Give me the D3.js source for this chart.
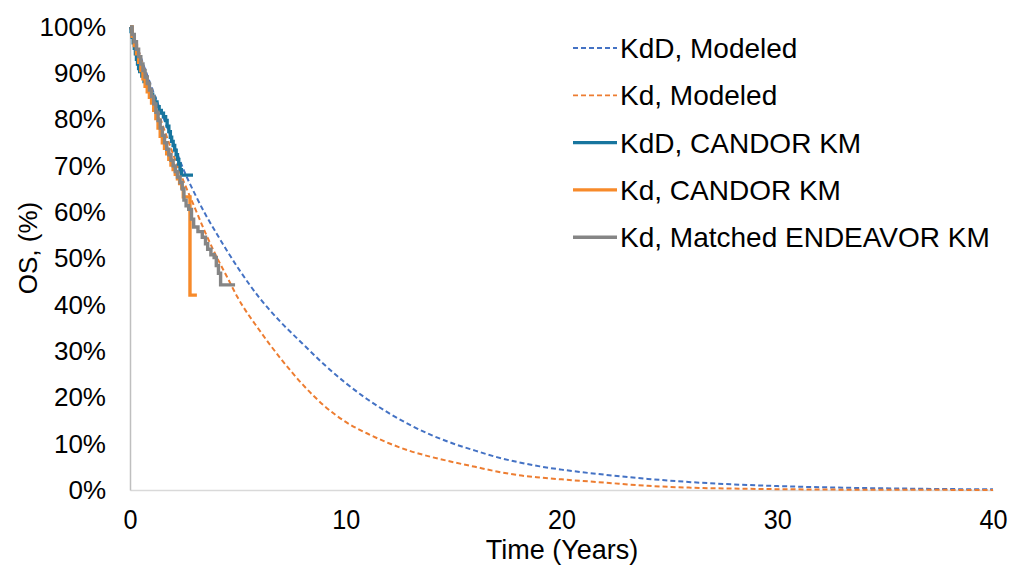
<!DOCTYPE html>
<html>
<head>
<meta charset="utf-8">
<script src="https://cdn.jsdelivr.net/npm/d3@7"></script>
<style>
  html, body { margin: 0; padding: 0; background: #fff; }
  svg { display: block; }
  text { font-family: "Liberation Sans", Arial, sans-serif; fill: #000; }
</style>
</head>
<body>
<svg id="chart" width="1011" height="565"></svg>
<script>
// ---------- DATA ----------
const xTicks = [0, 10, 20, 30, 40];
const yTicks = [0, 10, 20, 30, 40, 50, 60, 70, 80, 90, 100];

const seriesNames = ["KdD, Modeled", "Kd, Modeled", "KdD, CANDOR KM", "Kd, CANDOR KM", "Kd, Matched ENDEAVOR KM"];

// Modeled curves (time in years, OS %)
const kddModelTime = [0, 0.5, 1, 1.5, 2, 2.5, 3, 3.5, 4, 5, 6, 7, 8, 9, 10, 11, 12, 13, 14, 15, 16, 17, 18, 19, 20, 22, 24, 26, 28, 30, 32, 34, 36, 38, 40];
const kddModelOS   = [100, 93.5, 87, 81, 75, 69, 64, 59.5, 55.5, 48, 41.5, 36.2, 31.6, 27.1, 23.1, 19.6, 16.6, 14.0, 11.8, 10.0, 8.5, 7.1, 6.0, 5.1, 4.4, 3.3, 2.4, 1.7, 1.2, 0.85, 0.6, 0.42, 0.3, 0.2, 0.14];

const kdModelTime = [0, 0.5, 1, 1.5, 2, 2.5, 3, 3.5, 4, 4.5, 5, 6, 7, 8, 9, 10, 11, 12, 13, 14, 15, 16, 17, 18, 19, 20, 22, 24, 26, 28, 30, 32, 35, 40];
const kdModelOS   = [100, 93, 86, 79, 72.5, 66.5, 61, 55.5, 50.5, 46, 41.5, 34.5, 28.3, 22.8, 18.2, 14.7, 12.2, 10.1, 8.4, 7.1, 6.0, 5.0, 4.0, 3.2, 2.7, 2.3, 1.6, 0.9, 0.5, 0.3, 0.18, 0.1, 0.05, 0.02];

// Kaplan-Meier step curves
const kddKMTime = [0, 0.05, 0.1, 0.15, 0.2, 0.25, 0.3, 0.35, 0.4, 0.45, 0.55, 0.65, 0.75, 0.85, 0.95, 1.05, 1.15, 1.25, 1.35, 1.45, 1.55, 1.65, 1.72, 1.8, 1.87, 1.93, 2.0, 2.07, 2.14, 2.2, 2.26, 2.32, 2.38, 2.92];
const kddKMOS   = [100, 99, 97.8, 96.6, 95.4, 94.2, 93, 92, 91, 90.4, 89.4, 88.2, 87.2, 86.3, 85.5, 84.6, 83.8, 82.8, 82, 81.4, 80.6, 79.8, 78.6, 77.4, 76.2, 75.3, 74.4, 73.4, 72.4, 71.4, 70.4, 69.2, 68, 68];

const kdKMTime = [0, 0.1, 0.2, 0.3, 0.4, 0.5, 0.6, 0.7, 0.8, 0.9, 1.0, 1.1, 1.2, 1.3, 1.4, 1.5, 1.6, 1.7, 1.8, 1.9, 2.0, 2.1, 2.2, 2.3, 2.4, 2.47, 2.78, 3.1];
const kdKMOS   = [100, 98, 96, 94.2, 92.4, 90.6, 88.8, 87.2, 86, 84.8, 83.6, 82, 80.2, 78.2, 76.4, 75, 73.8, 72.6, 71.4, 70.2, 69.2, 68.2, 67.2, 66.2, 65.2, 63.3, 42.1, 42.1];

const endKMTime = [0, 0.1, 0.2, 0.3, 0.4, 0.5, 0.6, 0.7, 0.8, 0.9, 1.0, 1.1, 1.2, 1.3, 1.4, 1.5, 1.6, 1.7, 1.8, 1.9, 2.0, 2.1, 2.2, 2.32, 2.42, 2.5, 2.6, 2.72, 2.85, 2.95, 3.15, 3.35, 3.5, 3.6, 3.75, 3.9, 4.0, 4.1, 4.2, 4.87];
const endKMOS   = [100, 98.4, 96.8, 95.2, 93.6, 92, 90.6, 89.2, 87.8, 86.4, 85, 83.4, 81.6, 79.8, 78.2, 76.6, 75, 73.6, 72.4, 71.2, 70, 68.8, 67.6, 66.4, 65, 62.6, 61.4, 60.6, 58.5, 56.8, 55.8, 54.6, 53.2, 52, 50.8, 50.2, 48.5, 46.8, 44.3, 44.3];

// ---------- LAYOUT ----------
const W = 1011, H = 565;
const margin = { left: 130, right: 18, top: 27, bottom: 75 };
const svg = d3.select("#chart");

const x = d3.scaleLinear().domain([0, 40]).range([margin.left, W - margin.right]);
const y = d3.scaleLinear().domain([0, 100]).range([H - margin.bottom, margin.top]);

const zip = (t, v) => t.map((d, i) => [d, v[i]]);

const series = [
  { name: seriesNames[0], data: zip(kddModelTime, kddModelOS), color: "#4472C4", width: 2, dash: "5,3", curve: d3.curveMonotoneX },
  { name: seriesNames[1], data: zip(kdModelTime, kdModelOS), color: "#ED7D31", width: 2, dash: "5,3", curve: d3.curveMonotoneX },
  { name: seriesNames[2], data: zip(kddKMTime, kddKMOS), color: "#17759E", width: 3.4, dash: null, curve: d3.curveStepAfter },
  { name: seriesNames[3], data: zip(kdKMTime, kdKMOS), color: "#F78A2A", width: 3.4, dash: null, curve: d3.curveStepAfter },
  { name: seriesNames[4], data: zip(endKMTime, endKMOS), color: "#858585", width: 3.4, dash: null, curve: d3.curveStepAfter }
];

// ---------- AXES ----------
const xAxis = d3.axisBottom(x).tickValues(xTicks).tickSize(0).tickPadding(19).tickFormat(d3.format("d"));
const gx = svg.append("g").attr("transform", `translate(0,${y(0)})`).call(xAxis);
gx.select(".domain").attr("stroke", "#D9D9D9").attr("stroke-width", 1.5);
gx.selectAll("text")
  .attr("font-size", 28)
  .attr("font-family", "Liberation Sans, Arial, sans-serif")
  .attr("transform", "scale(0.9,1)");

const yAxis = d3.axisLeft(y).tickValues(yTicks).tickSize(0).tickPadding(24).tickFormat(d => d + "%");
const gy = svg.append("g").attr("transform", `translate(${x(0)},0)`).call(yAxis);
gy.select(".domain").attr("stroke", "#BFBFBF").attr("stroke-width", 1.5);
gy.selectAll("text").attr("font-size", 26).attr("font-family", "Liberation Sans, Arial, sans-serif");

// Axis titles
svg.append("text")
  .attr("x", 562)
  .attr("y", 559)
  .attr("text-anchor", "middle")
  .attr("font-size", 27)
  .text("Time (Years)");

svg.append("text")
  .attr("transform", `translate(37,248) rotate(-90)`)
  .attr("text-anchor", "middle")
  .attr("font-size", 26)
  .text("OS, (%)");

// ---------- LINES ----------
series.forEach(s => {
  const line = d3.line().x(d => x(d[0])).y(d => y(d[1])).curve(s.curve);
  svg.append("path")
    .datum(s.data)
    .attr("fill", "none")
    .attr("stroke", s.color)
    .attr("stroke-width", s.width)
    .attr("stroke-dasharray", s.dash)
    .attr("stroke-linejoin", "miter")
    .attr("d", line);
});

// ---------- LEGEND ----------
const legendY0 = 48, legendStep = 47.3;
const lg = svg.append("g");
series.forEach((s, i) => {
  const cy = legendY0 + i * legendStep;
  lg.append("line")
    .attr("x1", 573).attr("x2", 617)
    .attr("y1", cy).attr("y2", cy)
    .attr("stroke", s.color)
    .attr("stroke-width", s.dash ? 1.8 : 3.4)
    .attr("stroke-dasharray", s.dash);
  lg.append("text")
    .attr("x", 620)
    .attr("y", cy + 10)
    .attr("font-size", 28)
    .text(s.name);
});
</script>
</body>
</html>
